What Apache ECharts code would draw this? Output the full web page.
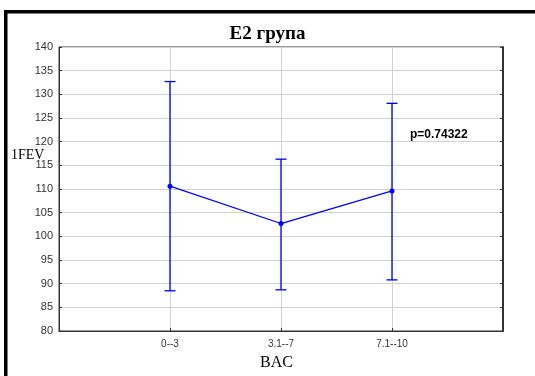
<!DOCTYPE html>
<html>
<head>
<meta charset="utf-8">
<script src="https://cdn.jsdelivr.net/npm/echarts@6/dist/echarts.min.js"></script>
<style>
  html, body { margin: 0; padding: 0; background: #fff; }
  #chart { width: 535px; height: 376px; }
</style>
</head>
<body>
<div id="chart"></div>
<script>
// BAC groups and FEV1 means with their interval bounds
const categories = ['0--3', '3.1--7', '7.1--10'];
const means = [110.6, 102.7, 109.6];
const lowerBounds = [88.5, 88.7, 90.8];
const upperBounds = [132.7, 116.3, 128.1];
const yTicks = [80, 85, 90, 95, 100, 105, 110, 115, 120, 125, 130, 135, 140];
const pValueText = 'p=0.74322';

const BLUE = '#0000ff';
const chart = echarts.init(document.getElementById('chart'));

// categories sit at x = 1, 2, 3 on a 0..4 axis
const points = means.map((v, i) => [i + 1, v]);
const bars = means.map((v, i) => [i + 1, lowerBounds[i], upperBounds[i]]);

chart.setOption({
  animation: false,
  backgroundColor: '#fff',
  title: {
    text: 'E2 група',
    left: 'center',
    top: 20,
    textStyle: { fontFamily: 'Liberation Serif', fontSize: 19, fontWeight: 'bold', color: '#000' }
  },
  grid: { left: 59, right: 32, top: 47, bottom: 45, show: true, borderColor: '#333', borderWidth: 1 },
  xAxis: {
    type: 'value', min: 0, max: 4, interval: 1,
    axisLine: { show: true, lineStyle: { color: '#333', width: 1 } },
    axisTick: { show: true, inside: true, length: 3, lineStyle: { color: '#333' } },
    axisLabel: {
      margin: 8,
      fontFamily: 'Liberation Sans', fontSize: 10, color: '#333',
      formatter: v => (v >= 1 && v <= categories.length && Number.isInteger(v)) ? categories[v - 1] : ''
    },
    splitLine: { show: true, lineStyle: { color: '#d2d2d2', width: 1 } }
  },
  yAxis: [{
    type: 'value', min: yTicks[0], max: yTicks[yTicks.length - 1], interval: 5,
    axisLine: { show: true, lineStyle: { color: '#333', width: 1 } },
    axisTick: { show: true, inside: true, length: 3, lineStyle: { color: '#333' } },
    axisLabel: { margin: 6, fontFamily: 'Liberation Sans', fontSize: 11, color: '#333' },
    splitLine: { show: true, lineStyle: { color: '#d2d2d2', width: 1 } }
  }, {
    type: 'value', min: yTicks[0], max: yTicks[yTicks.length - 1], interval: 5, position: 'right',
    axisLine: { show: true, lineStyle: { color: '#333', width: 2 } },
    axisTick: { show: true, inside: true, length: 3, lineStyle: { color: '#333' } },
    axisLabel: { show: false },
    splitLine: { show: false }
  }],
  graphic: [
    { type: 'rect', shape: { x: 4, y: 10, width: 531, height: 3.5 }, style: { fill: '#000' } },
    { type: 'rect', shape: { x: 4, y: 10, width: 3.5, height: 366 }, style: { fill: '#000' } },
    { type: 'text', left: 11, top: 148, style: { text: '1FEV', font: '14px "Liberation Serif"', fill: '#000' } },
    { type: 'text', left: 260, top: 355, style: { text: 'BAC', font: '16px "Liberation Serif"', fill: '#000' } },
    { type: 'text', left: 410, top: 129, style: { text: pValueText, font: 'bold 12px "Liberation Sans"', fill: '#000' } }
  ],
  series: [{
    type: 'custom',
    data: bars,
    renderItem: (params, api) => {
      const x = api.value(0);
      const lo = api.coord([x, api.value(1)]);
      const hi = api.coord([x, api.value(2)]);
      const cap = 5.5;
      const style = { stroke: BLUE, lineWidth: 1.3 };
      return {
        type: 'group',
        children: [
          { type: 'line', shape: { x1: lo[0], y1: lo[1], x2: hi[0], y2: hi[1] }, style },
          { type: 'line', shape: { x1: hi[0] - cap, y1: hi[1], x2: hi[0] + cap, y2: hi[1] }, style },
          { type: 'line', shape: { x1: lo[0] - cap, y1: lo[1], x2: lo[0] + cap, y2: lo[1] }, style }
        ]
      };
    },
    z: 2
  }, {
    type: 'line',
    data: points,
    symbol: 'circle',
    symbolSize: 5,
    lineStyle: { color: BLUE, width: 1.2 },
    itemStyle: { color: BLUE },
    z: 3
  }]
});
</script>
</body>
</html>
